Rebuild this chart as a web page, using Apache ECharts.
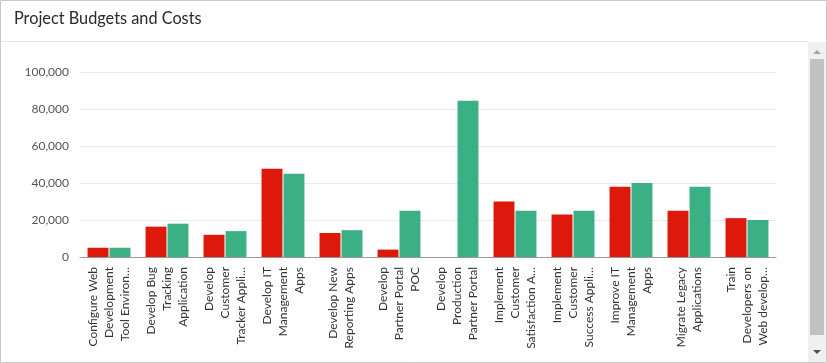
<!DOCTYPE html>
<html>
<head>
<meta charset="utf-8">
<script src="https://cdn.jsdelivr.net/npm/echarts@6/dist/echarts.min.js"></script>
<style>
html,body{margin:0;padding:0;background:#fff;}
#c{width:827px;height:363px;}
</style>
</head>
<body>
<div id="c"></div>
<script>
var titleText = "Project Budgets and Costs";
var categories = [
  "Configure Web\nDevelopment\nTool Environ…",
  "Develop Bug\nTracking\nApplication",
  "Develop\nCustomer\nTracker Appli…",
  "Develop IT\nManagement\nApps",
  "Develop New\nReporting Apps",
  "Develop\nPartner Portal\nPOC",
  "Develop\nProduction\nPartner Portal",
  "Implement\nCustomer\nSatisfaction A…",
  "Implement\nCustomer\nSuccess Appli…",
  "Improve IT\nManagement\nApps",
  "Migrate Legacy\nApplications",
  "Train\nDevelopers on\nWeb develop…"
];
var costValues   = [5000, 16400, 12000, 47700, 13000, 4000, 0, 30000, 23000, 38000, 25000, 21000];
var budgetValues = [5000, 18000, 14000, 45000, 14500, 25000, 84500, 25000, 25000, 40000, 38000, 20000];
var yMin = 0, yMax = 100000, yInterval = 20000;

var FONT = "Lato, 'Open Sans', sans-serif";
var chart = echarts.init(document.getElementById('c'), null, {renderer: 'canvas'});
chart.setOption({
  animation: false,
  backgroundColor: '#fff',
  title: {
    text: titleText,
    left: 9, top: 6,
    textStyle: {fontFamily: FONT, fontSize: 16.3, fontWeight: 'normal', color: '#2a2a2a'}
  },
  graphic: [
    {type: 'rect', shape: {x: 0.5, y: 0.5, width: 826, height: 362}, style: {fill: 'none', stroke: '#c8c8c8', lineWidth: 1}, z: 100},
    {type: 'line', shape: {x1: 1, y1: 41.5, x2: 808, y2: 41.5}, style: {stroke: '#e5e5e5', lineWidth: 1}},
    {type: 'rect', shape: {x: 808, y: 42, width: 18, height: 320}, style: {fill: '#f0f0f0'}},
    {type: 'rect', shape: {x: 810, y: 59, width: 14, height: 276}, style: {fill: '#c1c1c1'}},
    {type: 'polygon', shape: {points: [[813, 54], [821, 54], [817, 50]]}, style: {fill: '#a3a3a3'}},
    {type: 'polygon', shape: {points: [[813, 350], [821, 350], [817, 354]]}, style: {fill: '#505050'}}
  ],
  grid: {left: 80, right: 51, top: 72, bottom: 106, containLabel: false},
  xAxis: {
    type: 'category',
    data: categories,
    axisLine: {show: true, lineStyle: {color: '#9a9a9a', width: 1}},
    axisTick: {show: false},
    axisLabel: {
      rotate: 90, interval: 0, margin: 10,
      fontFamily: FONT, fontSize: 12, lineHeight: 16, color: '#333'
    }
  },
  yAxis: {
    type: 'value',
    min: yMin, max: yMax, interval: yInterval,
    axisLine: {show: false},
    axisTick: {show: false},
    axisLabel: {
      margin: 11, fontFamily: FONT, fontSize: 12, color: '#555',
      formatter: function (v) { return v.toLocaleString('en-US'); }
    },
    splitLine: {lineStyle: {color: '#e8e8ee', width: 1}}
  },
  series: [
    {name: 'Cost', type: 'bar', data: costValues, itemStyle: {color: '#dd190c'},
     barGap: '5%', barCategoryGap: '26%'},
    {name: 'Budget', type: 'bar', data: budgetValues, itemStyle: {color: '#3cb085'},
     barGap: '5%', barCategoryGap: '26%'}
  ]
});
</script>
</body>
</html>
